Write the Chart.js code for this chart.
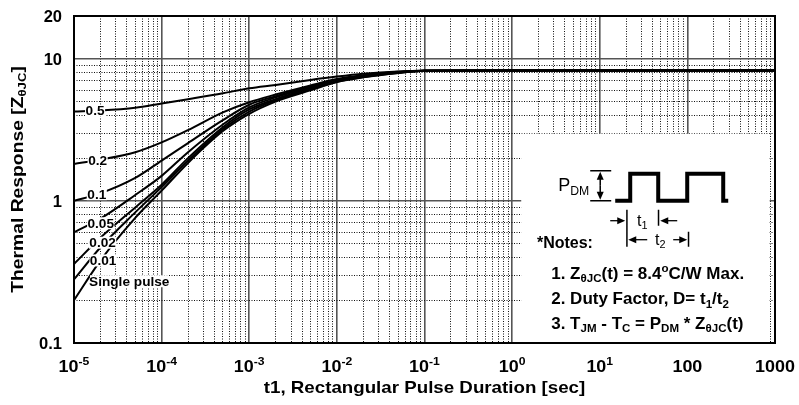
<!DOCTYPE html>
<html>
<head>
<meta charset="utf-8">
<script src="https://cdn.jsdelivr.net/npm/chart.js@4.4.0/dist/chart.umd.min.js"></script>
<style>
html, body { margin: 0; padding: 0; background: #fff; }
</style>
</head>
<body>
<canvas id="grafico" width="799" height="405"></canvas>
<script>
// DATOS
var tiempos = [1e-5, 2e-5, 5e-5, 1e-4, 2e-4, 5e-4, 1e-3, 2e-3, 5e-3, 1e-2, 2e-2, 5e-2, 1e-1, 1, 10, 100, 1000];
var d05    = [4.25, 4.32, 4.52, 4.85, 5.2, 5.72, 6.2, 6.55, 7.1, 7.5, 7.85, 8.15, 8.25, 8.27, 8.27, 8.27, 8.27];
var d02    = [1.82, 1.95, 2.2, 2.58, 3.15, 4.2, 4.95, 5.6, 6.5, 7.2, 7.65, 8.1, 8.25, 8.27, 8.27, 8.27, 8.27];
var d01    = [1.0, 1.13, 1.45, 1.92, 2.55, 3.7, 4.75, 5.45, 6.4, 7.1, 7.6, 8.05, 8.25, 8.27, 8.27, 8.27, 8.27];
var d005   = [0.6, 0.75, 1.1, 1.5, 2.2, 3.45, 4.55, 5.35, 6.3, 7.0, 7.55, 8.05, 8.25, 8.27, 8.27, 8.27, 8.27];
var d002   = [0.36, 0.55, 0.9, 1.3, 2.0, 3.3, 4.4, 5.2, 6.2, 6.95, 7.5, 8.0, 8.25, 8.27, 8.27, 8.27, 8.27];
var d001   = [0.28, 0.47, 0.83, 1.25, 1.92, 3.2, 4.25, 5.1, 6.1, 6.9, 7.45, 7.95, 8.25, 8.27, 8.27, 8.27, 8.27];
var dSimple = [0.2, 0.38, 0.76, 1.18, 1.85, 3.1, 4.1, 5.0, 6.0, 6.85, 7.4, 7.95, 8.25, 8.27, 8.27, 8.27, 8.27];

var series = [d05, d02, d01, d005, d002, d001, dSimple];
var etiquetas = ['0.5', '0.2', '0.1', '0.05', '0.02', '0.01', 'Single pulse'];
// posicion de cada etiqueta (en valores de los ejes)
var etiquetaX = [1.74e-5, 1.86e-5, 1.82e-5, 2.02e-5, 2.12e-5, 2.15e-5, 4.27e-5];
var etiquetaY = [4.31, 1.94, 1.115, 0.696, 0.508, 0.381, 0.272];

// ETIQUETAS DE LOS EJES
var xTicksVal = [1e-5, 1e-4, 1e-3, 1e-2, 1e-1, 1, 10, 100, 1000];
var xTicksTxt = ['10', '10', '10', '10', '10', '10', '10', '100', '1000'];
var xTicksExp = ['-5', '-4', '-3', '-2', '-1', '0', '1', '', ''];
var yTicksVal = [0.1, 1, 10, 20];
var yTicksTxt = ['0.1', '1', '10', '20'];

var fam = "'Liberation Sans', Arial, Helvetica, sans-serif";

// lineas de rejilla
var xRejilla = [];
for (var e = -5; e <= 2; e++) {
    for (var m = 1; m <= 9; m++) {
        if (e == -5 && m == 1) continue;
        xRejilla.push(parseFloat((m * Math.pow(10, e)).toPrecision(6)));
    }
}
var yRejilla = [];
for (var e2 = -1; e2 <= 0; e2++) {
    for (var m2 = 1; m2 <= 9; m2++) {
        if (e2 == -1 && m2 == 1) continue;
        yRejilla.push(parseFloat((m2 * Math.pow(10, e2)).toPrecision(6)));
    }
}
yRejilla.push(10);

function esMayor(v) {
    var l = Math.log10(v);
    return Math.abs(l - Math.round(l)) < 1e-6;
}

function fuente(tam, peso) {
    return (peso || '') + ' ' + tam + 'px ' + fam;
}

// texto con subindices / superindices: partes = [[texto, 'n'|'sub'|'sup'], ...]
function medir(ctx, partes, fs, peso) {
    var w = 0;
    partes.forEach(function (p) {
        ctx.font = fuente(p[1] == 'n' ? fs : fs * 0.68, peso);
        w += ctx.measureText(p[0]).width;
    });
    return w;
}

function escribir(ctx, partes, x, y, fs, peso, alin, sx) {
    sx = sx || 1;
    var w = medir(ctx, partes, fs, peso) * sx;
    var x0 = x;
    if (alin == 'center') x0 = x - w / 2;
    if (alin == 'right') x0 = x - w;
    ctx.save();
    ctx.translate(x0, y);
    ctx.scale(sx, 1);
    ctx.textAlign = 'left';
    ctx.textBaseline = 'alphabetic';
    ctx.fillStyle = '#000';
    var cx = 0;
    partes.forEach(function (p) {
        var f = p[1] == 'n' ? fs : fs * 0.68;
        ctx.font = fuente(f, peso);
        var dy = 0;
        if (p[1] == 'sub') dy = fs * 0.22;
        if (p[1] == 'sup') dy = -fs * 0.42;
        ctx.fillText(p[0], cx, dy);
        cx += ctx.measureText(p[0]).width;
    });
    ctx.restore();
}

function flecha(ctx, x1, y1, x2, y2) {
    var ang = Math.atan2(y2 - y1, x2 - x1);
    ctx.beginPath();
    ctx.moveTo(x1, y1);
    ctx.lineTo(x2 - 6 * Math.cos(ang), y2 - 6 * Math.sin(ang));
    ctx.stroke();
    ctx.beginPath();
    ctx.moveTo(x2, y2);
    ctx.lineTo(x2 - 8 * Math.cos(ang) + 3.5 * Math.sin(ang), y2 - 8 * Math.sin(ang) - 3.5 * Math.cos(ang));
    ctx.lineTo(x2 - 8 * Math.cos(ang) - 3.5 * Math.sin(ang), y2 - 8 * Math.sin(ang) + 3.5 * Math.cos(ang));
    ctx.closePath();
    ctx.fill();
}

var fondoBlanco = {
    id: 'fondoBlanco',
    beforeDraw: function (chart) {
        var ctx = chart.ctx;
        ctx.save();
        ctx.fillStyle = '#fff';
        ctx.fillRect(0, 0, chart.width, chart.height);
        ctx.restore();
    },
    beforeDatasetsDraw: function (chart) {
        // caja de notas (tapa la rejilla)
        var ctx = chart.ctx;
        var xs = chart.scales.x, ys = chart.scales.y;
        var l = xs.getPixelForValue(1.27), r = xs.getPixelForValue(870);
        var t = ys.getPixelForValue(2.97), b = chart.chartArea.bottom - 1;
        ctx.save();
        ctx.fillStyle = '#fff';
        ctx.fillRect(l, t, r - l, b - t);
        ctx.restore();
        chart.$caja = {l: l, t: t};
    }
};

var textos = {
    id: 'textos',
    afterDatasetsDraw: function (chart) {
        var ctx = chart.ctx;
        var a = chart.chartArea;
        var xs = chart.scales.x, ys = chart.scales.y;
        ctx.save();

        // marco
        ctx.strokeStyle = '#000';
        ctx.lineWidth = 2;
        ctx.strokeRect(a.left, a.top, a.right - a.left, a.bottom - a.top);

        // etiquetas de curvas
        for (var i = 0; i < etiquetas.length; i++) {
            var px = xs.getPixelForValue(etiquetaX[i]);
            var py = ys.getPixelForValue(etiquetaY[i]);
            ctx.font = fuente(13, 'bold');
            var w = ctx.measureText(etiquetas[i]).width;
            ctx.fillStyle = '#fff';
            ctx.fillRect(px - w / 2 - 1, py - 6, w + 2, 12);
            escribir(ctx, [[etiquetas[i], 'n']], px, py + 4.7, 13, 'bold', 'center', 1.05);
        }

        // ticks eje y
        for (var j = 0; j < yTicksVal.length; j++) {
            var yy = ys.getPixelForValue(yTicksVal[j]);
            escribir(ctx, [[yTicksTxt[j], 'n']], 62, yy + 6, 16.5, 'bold', 'right');
        }
        // ticks eje x
        for (var k = 0; k < xTicksVal.length; k++) {
            var xx = xs.getPixelForValue(xTicksVal[k]);
            var partes = [[xTicksTxt[k], 'n']];
            if (xTicksExp[k] !== '') partes.push([xTicksExp[k], 'sup']);
            escribir(ctx, partes, xx, 372, 16, 'bold', 'center', 1.12);
        }

        // titulos
        escribir(ctx, [['t1, Rectangular Pulse Duration [sec]', 'n']], (a.left + a.right) / 2, 393, 16.3, 'bold', 'center', 1.15);
        ctx.save();
        ctx.translate(22.5, (a.top + a.bottom) / 2);
        ctx.rotate(-Math.PI / 2);
        escribir(ctx, [['Thermal Response [Z', 'n'], ['\u03b8JC', 'sub'], [']', 'n']], 0, 0, 16.5, 'bold', 'center', 1.17);
        ctx.restore();

        // caja de notas
        var bx = chart.$caja.l, by = chart.$caja.t;
        escribir(ctx, [['P', 'n'], ['DM', 'sub']], bx + 37, by + 57, 18, '', 'left');
        ctx.strokeStyle = '#000';
        ctx.fillStyle = '#000';
        ctx.lineWidth = 1.5;
        ctx.beginPath();
        ctx.moveTo(bx + 69, by + 37); ctx.lineTo(bx + 90, by + 37);
        ctx.moveTo(bx + 69, by + 67); ctx.lineTo(bx + 90, by + 67);
        ctx.stroke();
        flecha(ctx, bx + 79, by + 52, bx + 79, by + 38);
        flecha(ctx, bx + 79, by + 52, bx + 79, by + 66);

        // pulsos
        ctx.lineWidth = 4;
        ctx.lineJoin = 'miter';
        ctx.beginPath();
        ctx.moveTo(bx + 94, by + 67);
        ctx.lineTo(bx + 109, by + 67);
        ctx.lineTo(bx + 109, by + 40);
        ctx.lineTo(bx + 137, by + 40);
        ctx.lineTo(bx + 137, by + 67);
        ctx.lineTo(bx + 166, by + 67);
        ctx.lineTo(bx + 166, by + 40);
        ctx.lineTo(bx + 202, by + 40);
        ctx.lineTo(bx + 202, by + 67);
        ctx.lineTo(bx + 207, by + 67);
        ctx.stroke();

        // t1 / t2
        ctx.lineWidth = 1.5;
        ctx.beginPath();
        ctx.moveTo(bx + 105.7, by + 76); ctx.lineTo(bx + 105.7, by + 113);
        ctx.moveTo(bx + 137.3, by + 76); ctx.lineTo(bx + 137.3, by + 92);
        ctx.moveTo(bx + 167.3, by + 98); ctx.lineTo(bx + 167.3, by + 113);
        ctx.stroke();
        ctx.lineWidth = 1.3;
        flecha(ctx, bx + 89, by + 87, bx + 104, by + 87);
        flecha(ctx, bx + 156, by + 87, bx + 139, by + 87);
        flecha(ctx, bx + 126, by + 106, bx + 107, by + 106);
        flecha(ctx, bx + 152, by + 106, bx + 166, by + 106);
        escribir(ctx, [['t', 'n'], ['1', 'sub']], bx + 121, by + 92, 16, '', 'center');
        escribir(ctx, [['t', 'n'], ['2', 'sub']], bx + 139, by + 111, 16, '', 'center');

        escribir(ctx, [['*Notes:', 'n']], bx + 15.7, by + 114, 16, 'bold', 'left');
        escribir(ctx, [['1. Z', 'n'], ['\u03b8JC', 'sub'], ['(t) = 8.4', 'n'], ['o', 'sup'], ['C/W Max.', 'n']], bx + 30, by + 145, 17, 'bold', 'left');
        escribir(ctx, [['2. Duty Factor, D= t', 'n'], ['1', 'sub'], ['/t', 'n'], ['2', 'sub']], bx + 30, by + 170.5, 17, 'bold', 'left');
        escribir(ctx, [['3. T', 'n'], ['JM', 'sub'], [' - T', 'n'], ['C', 'sub'], [' = P', 'n'], ['DM', 'sub'], [' * Z', 'n'], ['\u03b8JC', 'sub'], ['(t)', 'n']], bx + 30, by + 195, 17, 'bold', 'left');

        ctx.restore();
    }
};

function hacerDataset(valores) {
    return {
        data: tiempos.map(function (t, i) { return {x: t, y: valores[i]}; }),
        borderColor: '#000',
        borderWidth: 2,
        pointRadius: 0,
        fill: false,
        cubicInterpolationMode: 'monotone'
    };
}

var rejillaColor = function (c) { return esMayor(c.tick.value) ? '#555' : '#111'; };
var rejillaAncho = function (c) { return esMayor(c.tick.value) ? 1.6 : 1; };
var rejillaDash = function (c) { return esMayor(c.tick.value) ? [] : [1, 1.5]; };

var grafico = new Chart(document.getElementById('grafico'), {
    type: 'line',
    data: { datasets: series.map(hacerDataset) },
    options: {
        responsive: false,
        animation: false,
        devicePixelRatio: 1,
        layout: { padding: { left: 74, right: 24, top: 16, bottom: 62 } },
        plugins: { legend: { display: false }, tooltip: { enabled: false } },
        scales: {
            x: {
                type: 'logarithmic',
                min: 1e-5,
                max: 1000,
                afterBuildTicks: function (eje) { eje.ticks = xRejilla.map(function (v) { return {value: v}; }); },
                ticks: { display: false },
                grid: { color: rejillaColor, lineWidth: rejillaAncho, drawTicks: false },
                border: { display: false, dash: rejillaDash }
            },
            y: {
                type: 'logarithmic',
                min: 0.1,
                max: 20,
                afterBuildTicks: function (eje) { eje.ticks = yRejilla.map(function (v) { return {value: v}; }); },
                ticks: { display: false },
                grid: { color: rejillaColor, lineWidth: rejillaAncho, drawTicks: false },
                border: { display: false, dash: rejillaDash }
            }
        }
    },
    plugins: [fondoBlanco, textos]
});
</script>
</body>
</html>
